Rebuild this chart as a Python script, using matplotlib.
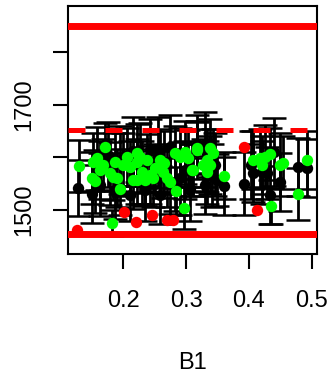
import matplotlib
matplotlib.use("Agg")
import matplotlib.pyplot as plt

plt.rcParams['font.family'] = ['Liberation Sans', 'DejaVu Sans']

# ---- data ----
green_x = [0.171, 0.152, 0.150, 0.155, 0.163, 0.168, 0.179, 0.184, 0.190, 0.195,
           0.206, 0.200, 0.211, 0.222, 0.222, 0.215, 0.230, 0.238, 0.242, 0.250,
           0.258, 0.263, 0.270, 0.274, 0.282, 0.284, 0.290, 0.298, 0.309, 0.317,
           0.222, 0.235, 0.247, 0.317, 0.338, 0.343, 0.333, 0.327, 0.338, 0.311,
           0.333, 0.360, 0.418, 0.426, 0.434, 0.421, 0.449, 0.454, 0.406, 0.492,
           0.478, 0.435, 0.130, 0.182, 0.297, 0.158, 0.187, 0.227, 0.265, 0.303]
green_y = [1620, 1591, 1561, 1555, 1576, 1586, 1570, 1563, 1561, 1540,
           1601, 1586, 1582, 1609, 1591, 1557, 1572, 1595, 1567, 1580,
           1595, 1572, 1561, 1553, 1609, 1536, 1601, 1610, 1576, 1614,
           1557, 1557, 1561, 1618, 1618, 1609, 1595, 1586, 1586, 1576,
           1572, 1565, 1599, 1601, 1607, 1586, 1586, 1590, 1595, 1595,
           1530, 1508, 1584, 1475, 1504, 1598, 1592, 1600, 1590, 1598]
green_err = [45, 55, 50, 60, 55, 50, 60, 45, 55, 50,
             55, 60, 50, 55, 45, 55, 60, 50, 55, 45,
             60, 50, 55, 60, 50, 45, 55, 60, 50, 55,
             45, 50, 55, 50, 55, 45, 60, 50, 55, 50,
             60, 45, 55, 60, 50, 55, 60, 50, 55, 55,
             50, 34, 50, 25, 40, 60, 55, 65, 60, 55]

black_x = [0.128, 0.360, 0.392, 0.434, 0.478, 0.492, 0.346, 0.349, 0.403, 0.406,
           0.421, 0.429, 0.449, 0.163, 0.187, 0.211, 0.235, 0.258, 0.282, 0.306,
           0.330, 0.195, 0.242, 0.298, 0.275, 0.318, 0.330, 0.255, 0.175, 0.215,
           0.290, 0.342, 0.440, 0.150]
black_y = [1542, 1546, 1550, 1529, 1582, 1580, 1586, 1557, 1586, 1570,
           1572, 1570, 1553, 1548, 1538, 1529, 1538, 1529, 1548, 1538,
           1548, 1595, 1614, 1576, 1620, 1625, 1615, 1610, 1605, 1612,
           1560, 1565, 1610, 1530]
black_err = [53, 55, 60, 55, 56, 55, 60, 50, 65, 55,
             60, 50, 55, 60, 55, 50, 60, 55, 50, 60,
             55, 65, 60, 55, 60, 55, 72, 68, 62, 66,
             70, 60, 65, 55]

red_x = [0.201, 0.220, 0.246, 0.270, 0.279, 0.126, 0.392, 0.413]
red_y = [1496, 1477, 1490, 1481, 1481, 1462, 1620, 1500]

mean_line = 1652
upper_line = 1850
lower_line = 1454

x_ticks = [0.2, 0.3, 0.4, 0.5]
x_ticklabels = ["0.2", "0.3", "0.4", "0.5"]
y_ticks = [1500, 1600, 1700, 1800]
y_ticklabels = ["1500", "", "1700", ""]
x_label = "B1"

# ---- plot ----
fig = plt.figure(figsize=(3.3, 3.79), dpi=100)
ax = fig.add_axes([68/330, 1-254/379, 249/330, 248/379])

eb_kw = dict(fmt='none', ecolor='black', elinewidth=2.0, capsize=8.6,
             capthick=1.8, zorder=2)
ax.errorbar(black_x, black_y, yerr=black_err, **eb_kw)
ax.errorbar(green_x, green_y, yerr=green_err, **eb_kw)

ax.plot(black_x, black_y, 'o', color='black', ms=8.2, mec='none', zorder=3)
ax.plot(green_x, green_y, 'o', color='#00FF00', ms=8.2, mec='none', zorder=4)
ax.plot(red_x, red_y, 'o', color='#FF0000', ms=8.2, mec='none', zorder=4)

ax.axhline(upper_line, color='#FF0000', lw=5, zorder=5)
ax.axhline(lower_line, color='#FF0000', lw=5, zorder=5)
ax.axhline(mean_line, color='#FF0000', lw=3.6, zorder=5,
           linestyle=(0, (3.4, 4.0)))

ax.set_xlim(0.112, 0.5084)
ax.set_ylim(1416, 1888.6)

ax.set_xticks(x_ticks)
ax.set_xticklabels(x_ticklabels)
ax.set_yticks(y_ticks)
ax.set_yticklabels(y_ticklabels, rotation=90, va='center')

ax.tick_params(axis='both', length=10.8, width=1.5, labelsize=17, colors='black')
ax.tick_params(axis='x', pad=15)
ax.tick_params(axis='y', pad=13)
for s in ax.spines.values():
    s.set_linewidth(1.5)

ax.set_xlabel(x_label, fontsize=17, labelpad=29)

fig.savefig("out.png", dpi=100)
